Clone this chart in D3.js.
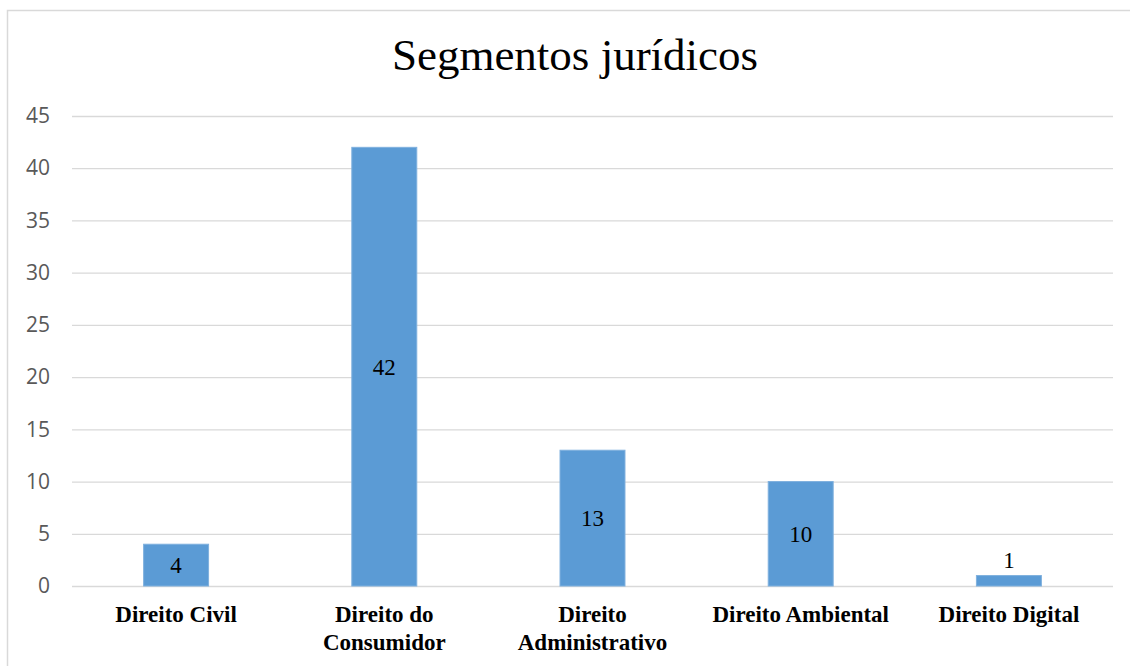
<!DOCTYPE html>
<html>
<head>
<meta charset="utf-8">
<script src="https://cdn.jsdelivr.net/npm/d3@7"></script>
<style>
  body { margin: 0; background: #fff; }
  .grid line { stroke: #d9d9d9; stroke-width: 1.3; }
  .grid path { display: none; }
  .y.axis path, .y.axis line { display: none; }
  .y.axis text { font-family: "Open Sans", sans-serif; font-size: 21px; fill: #595959; }
</style>
</head>
<body>
<div id="chart"></div>
<script>
var chartTitle = "Segmentos jurídicos";
var categories = ["Direito Civil", "Direito do Consumidor", "Direito Administrativo", "Direito Ambiental", "Direito Digital"];
// category labels are wrapped on two lines like in the original
var categoryLines = [["Direito Civil"], ["Direito do", "Consumidor"], ["Direito", "Administrativo"], ["Direito Ambiental"], ["Direito Digital"]];
var values = [4, 42, 13, 10, 1];
var yTicks = [0, 5, 10, 15, 20, 25, 30, 35, 40, 45];

var width = 1130, height = 666;
var margin = {top: 116, right: 17, bottom: 80, left: 72};
var innerW = width - margin.left - margin.right,
    innerH = height - margin.top - margin.bottom;

var svg = d3.select("#chart")
    .append("svg")
        .attr("width", width)
        .attr("height", height);

// chart frame
svg.append("rect")
    .attr("x", 7.5).attr("y", 10.5)
    .attr("width", width).attr("height", height)
    .attr("fill", "none")
    .attr("stroke", "#d9d9d9")
    .attr("stroke-width", 1.5);

svg.append("text")
    .attr("x", 575)
    .attr("y", 70)
    .attr("text-anchor", "middle")
    .style("font-family", "'Liberation Serif', 'Times New Roman', serif")
    .style("font-size", "45px")
    .text(chartTitle);

var g = svg.append("g")
    .attr("transform", "translate(" + margin.left + "," + margin.top + ")");

var x = d3.scaleBand().domain(categories).range([0, innerW]).paddingInner(0.688).paddingOuter(0.344);
var y = d3.scaleLinear().domain([0, 45]).range([innerH, 0]);

// gridlines
g.append("g")
    .attr("class", "grid")
    .call(d3.axisLeft(y).tickValues(yTicks).tickSize(-innerW).tickFormat(""));

// y axis labels
g.append("g")
    .attr("class", "y axis")
    .attr("transform", "translate(-22,0)")
    .call(d3.axisLeft(y).tickValues(yTicks).tickSize(0).tickPadding(0));

var data = categories.map(function(c, i) { return {cat: c, value: values[i], lines: categoryLines[i]}; });

g.selectAll(".bar")
    .data(data)
  .enter().append("rect")
    .attr("class", "bar")
    .attr("x", function(d) { return x(d.cat); })
    .attr("y", function(d) { return y(d.value); })
    .attr("width", x.bandwidth())
    .attr("height", function(d) { return innerH - y(d.value); })
    .attr("fill", "#5b9bd5")
    .attr("stroke", "#7fb0de")
    .attr("stroke-width", 1);

// data labels: centred in the bar, above it when the bar is too short
g.selectAll(".label")
    .data(data)
  .enter().append("text")
    .attr("class", "label")
    .attr("x", function(d) { return x(d.cat) + x.bandwidth() / 2; })
    .attr("y", function(d) {
        var h = innerH - y(d.value);
        return h < 25 ? y(d.value) - 8 : y(d.value / 2) + 8;
    })
    .attr("text-anchor", "middle")
    .style("font-family", "'Liberation Serif', 'Times New Roman', serif")
    .style("font-size", "23px")
    .style("fill", "#000")
    .text(function(d) { return d.value; });

// category labels
var cl = g.selectAll(".cat")
    .data(data)
  .enter().append("text")
    .attr("class", "cat")
    .attr("text-anchor", "middle")
    .attr("transform", function(d) { return "translate(" + (x(d.cat) + x.bandwidth() / 2) + "," + (innerH + 36) + ")"; })
    .style("font-family", "'Liberation Serif', 'Times New Roman', serif")
    .style("font-size", "23px")
    .style("font-weight", "bold");

cl.selectAll("tspan")
    .data(function(d) { return d.lines; })
  .enter().append("tspan")
    .attr("x", 0)
    .attr("dy", function(d, i) { return i === 0 ? 0 : 28; })
    .text(function(d) { return d; });
</script>
</body>
</html>
